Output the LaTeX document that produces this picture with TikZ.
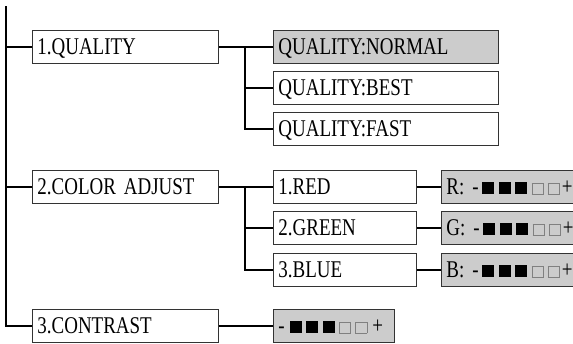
\documentclass[tikz,border=0pt]{standalone}
\usepackage{fontspec}
\setmainfont[FakeStretch=0.79]{Liberation Serif}
\definecolor{boxgray}{HTML}{CCCCCC}
\definecolor{edgegray}{HTML}{333333}
\definecolor{emptysq}{HTML}{808080}
\newcommand\fsq{\makebox[16.6pt]{\rule[1pt]{12pt}{12pt}}}
\newcommand\esq{\makebox[16.2pt]{\raisebox{1pt}{\color{emptysq}\setlength\fboxsep{0pt}\setlength\fboxrule{0.8pt}\fbox{\rule{0pt}{10.4pt}\hspace{10.4pt}}}}}
\tikzset{
  menubox/.style={draw=edgegray, line width=0.9pt, fill=white, minimum height=33pt,
    inner xsep=5pt, inner ysep=0pt, text height=16pt, text depth=0pt,
    align=left, font=\fontsize{24}{24}\selectfont, anchor=north west},
  selbox/.style={menubox, fill=boxgray},
  conn/.style={line width=1.8pt, black}
}
\begin{document}
\begin{tikzpicture}[x=1pt,y=-1pt]
\useasboundingbox (0,0) rectangle (573,343);
\clip (0,0) rectangle (573,343);
% level 1
\node[menubox, text width=176pt] (q1) at (32,30) {1.QUALITY};
\node[menubox, text width=176pt] (c2) at (32,170) {2.COLOR ADJUST};
\node[menubox, text width=176pt] (c3) at (32,309) {3.CONTRAST};
% quality options
\node[selbox, text width=215pt] (qn) at (273,30) {QUALITY:NORMAL};
\node[menubox, text width=215pt] (qb) at (273,71) {QUALITY:BEST};
\node[menubox, text width=215pt] (qf) at (273,112) {QUALITY:FAST};
% colour adjust
\node[menubox, text width=133pt] (red) at (273,170) {1.RED};
\node[menubox, text width=133pt] (green) at (273,211) {2.GREEN};
\node[menubox, text width=133pt] (blue) at (273,253) {3.BLUE};
\node[selbox, text width=140pt] (rg) at (441,170) {R: -\hspace{1pt}\fsq\fsq\fsq\esq\esq+};
\node[selbox, text width=140pt] (gg) at (441,211) {G: -\hspace{1pt}\fsq\fsq\fsq\esq\esq+};
\node[selbox, text width=140pt] (bg) at (441,253) {B: -\hspace{1pt}\fsq\fsq\fsq\esq\esq+};
% contrast
\node[selbox, text width=111pt] (cg) at (273,309) {-\hspace{2.5pt}\fsq\fsq\fsq\esq\esq\hspace{3pt}+};
% connectors
\coordinate (top) at (6,6);
\coordinate (j1) at (245,0);
\draw[conn] (top) |- (c3.west);
\draw[conn] (top |- q1.west) -- (q1.west);
\draw[conn] (top |- c2.west) -- (c2.west);
\draw[conn] (q1.east) -- (qn.west);
\draw[conn] (j1 |- q1.east) |- (qb.west);
\draw[conn] (j1 |- q1.east) |- (qf.west);
\draw[conn] (c2.east) -- (red.west);
\draw[conn] (j1 |- c2.east) |- (green.west);
\draw[conn] (j1 |- c2.east) |- (blue.west);
\draw[conn] (red.east) -- (rg.west);
\draw[conn] (green.east) -- (gg.west);
\draw[conn] (blue.east) -- (bg.west);
\draw[conn] (c3.east) -- (cg.west);
\end{tikzpicture}
\end{document}
